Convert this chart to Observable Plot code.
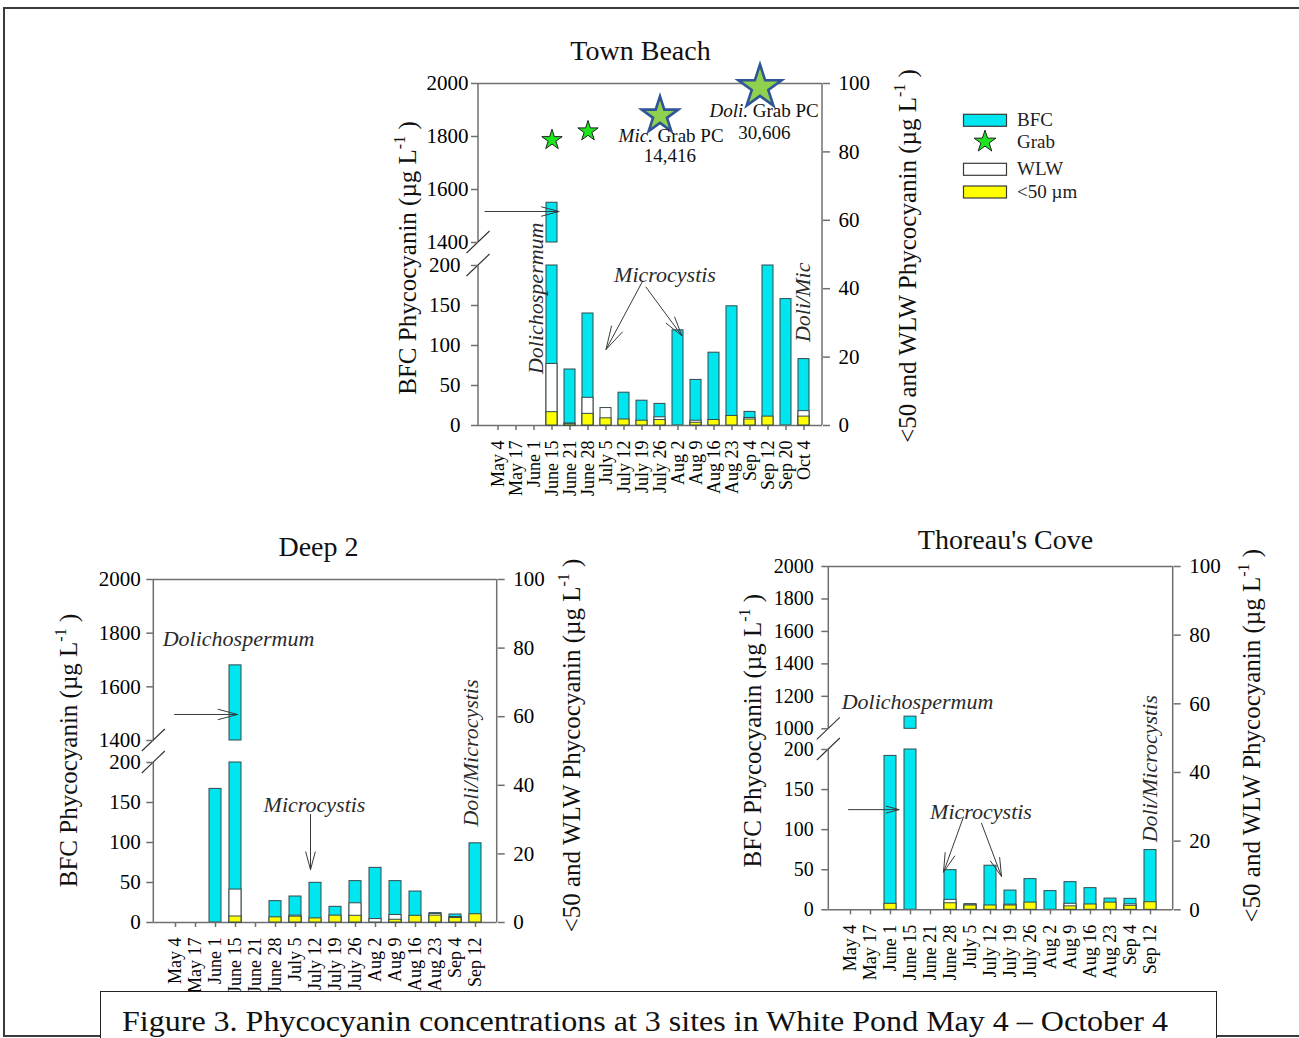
<!DOCTYPE html>
<html>
<head>
<meta charset="utf-8">
<script src="https://cdn.jsdelivr.net/npm/d3@7"></script>
<script src="https://cdn.jsdelivr.net/npm/@observablehq/plot@0.6"></script>
<style>
html,body{margin:0;padding:0;background:#fff;}
#page{position:relative;width:1299px;height:1038px;overflow:hidden;font-family:"Liberation Serif","Times New Roman",serif;background:#fff;}
#border{position:absolute;left:3px;top:7px;width:1320px;height:1026px;border-top:2px solid #3a3a3a;border-left:2px solid #3a3a3a;border-bottom:2px solid #3a3a3a;}
#caption{position:absolute;left:100px;top:991px;width:1115px;height:70px;border:1.5px solid #222;background:#fff;z-index:5;}
#caption svg{position:absolute;left:0;top:0;}
</style>
</head>
<body>
<div id="page"><div id="border"></div></div>
<script>
// ---------------- colours ----------------
const AXIS = "#6f6f6f";
const ANNO = "#2a2a2a";
const CYAN = "#00e6f0";
const YELLOW = "#ffff00";
const BAR_EDGE = "#34494b";
const GRAB_FILL = "#1ee61e";
const BIG_FILL = "#8fd14f";
const BIG_EDGE = "#2f5597";

// ---------------- data: Town Beach ----------------
const townDates = ["May 4","May 17","June 1","June 15","June 21","June 28","July 5","July 12","July 19","July 26","Aug 2","Aug 9","Aug 16","Aug 23","Sep 4","Sep 12","Sep 20","Oct 4"];
const townBFC  = [0,0,0,1550,70,140,0,41,31,27,119,57,91,149,17,200,158,83];
const townWLW  = [0,0,0,18.0,0.6,8.1,5.1,0,0,2.4,0,1.4,0,0,2.2,0,0,4.2];
const townLT50 = [0,0,0,3.9,0.4,3.4,2.1,1.75,1.4,1.6,0,0.8,1.6,2.8,1.75,2.6,0,2.6];
const townGrabDates = ["June 15","June 28"];
const townGrabPC = [1787,1820];
const townBigGrabDates = ["July 26","Sep 12"];
const townBigGrabPC = [1879,1986];
const townBigGrabTaxa = ["Mic.","Doli."];
const townBigGrabValues = ["14,416","30,606"];

// ---------------- data: Deep 2 and Thoreau's Cove ----------------
const siteDates = ["May 4","May 17","June 1","June 15","June 21","June 28","July 5","July 12","July 19","July 26","Aug 2","Aug 9","Aug 16","Aug 23","Sep 4","Sep 12"];
const deepBFC  = [0,0,167,1680,0,26.7,32.5,49.6,19.6,51.7,68.3,51.7,38.7,11.7,10,99];
const deepWLW  = [0,0,0,9.6,0,0,2.0,0,0,5.6,1.0,2.2,0,2.5,1.6,0];
const deepLT50 = [0,0,0,1.75,0,1.5,1.7,1.2,2.0,1.95,0,0.8,1.95,2.0,1.3,2.4];
const coveBFC  = [0,0,192,1075,0,49.5,7,55,24,38.3,23.3,34.5,27,14,13.7,74.5];
const coveWLW  = [0,0,0,0,0,2.9,1.5,0,1.5,0,0,1.75,0,0,1.6,0];
const coveLT50 = [0,0,1.75,0,0,1.9,1.25,1.25,1.25,2.1,0,1.0,1.55,2.1,1.15,2.2];

// ---------------- tick labels ----------------
const bfcTicksLow = [0,50,100,150,200];
const bfcTicksHigh = [1400,1600,1800,2000];
const coveTicksHigh = [1000,1200,1400,1600,1800,2000];
const rightTicks = [0,20,40,60,80,100];

const W = 1299, H = 1038;
const FONT = "'Liberation Serif','Times New Roman',serif";
const STYLE = `position:absolute;left:0;top:0;background:transparent;font-family:${FONT};color:#000;`;

// ---------------- helper marks ----------------
function spineMark(segments, side) {
  return (index, scales, values, dims) => {
    const xx = side === "left" ? dims.marginLeft : dims.width - dims.marginRight;
    const g = d3.create("svg:g").attr("stroke", AXIS).attr("stroke-width", 1.5);
    for (const [a, b] of segments)
      g.append("line").attr("x1", xx).attr("x2", xx).attr("y1", scales.y(a)).attr("y2", scales.y(b));
    return g.node();
  };
}
function slashMark(breaks) {
  return (index, scales, values, dims) => {
    const g = d3.create("svg:g").attr("stroke", "#333").attr("stroke-width", 1.1);
    for (const b of breaks) {
      const yy = scales.y(b);
      g.append("line").attr("x1", dims.marginLeft - 11.5).attr("y1", yy + 11)
        .attr("x2", dims.marginLeft + 11.5).attr("y2", yy - 11);
    }
    return g.node();
  };
}
function yTitleMark(main, side, offset, dy) {
  return (index, scales, values, dims) => {
    const x = side === "left" ? dims.marginLeft - offset : dims.width - dims.marginRight + offset;
    const y = (dims.marginTop + dims.height - dims.marginBottom) / 2 + dy;
    const t = d3.create("svg:text")
      .attr("transform", `translate(${x},${y}) rotate(-90)`)
      .attr("text-anchor", "middle").attr("font-size", 25).attr("fill", "#111");
    t.append("tspan").text(main + " (\u00b5g L");
    t.append("tspan").attr("font-size", 16).attr("dy", -11).text("-1");
    t.append("tspan").attr("dy", 11).text(" )");
    return t.node();
  };
}

// ---------------- panels ----------------
const panels = [
  {
    name: "Town Beach", dates: townDates, bfc: townBFC, wlw: townWLW, lt50: townLT50,
    frame: {left: 478, right: 822, top: 83, bottom: 425},
    yDomain: [0, 200, 1400, 2000], yRange: [425, 265, 242, 83],
    highTicks: bfcTicksHigh, lowPad: 11, highPad: 3, tickFont: 21,
    titleDx: -10, titleDy: -24,
    leftTitle: {offset: 62, dy: 4}, rightTitle: {offset: 94, dy: 2},
    texts: [
      {text: "Dolichospermum", date: "June 1", value: 159, dx: 2, dy: 0, rotate: -90},
      {text: "Microcystis", date: "July 26", value: 188, dx: 5, dy: 0, rotate: 0},
      {text: "Doli/Mic", date: "Oct 4", value: 154, dx: -1, dy: 0, rotate: -90}
    ],
    arrows: [
      {d1: "May 4", v1: 1517, d2: "June 15", v2: 1517, dx: 0, insetStart: -13, insetEnd: -7},
      {d1: "July 19", v1: 179, d2: "July 5", v2: 95, dx: 0, insetStart: 0, insetEnd: 0},
      {d1: "July 19", v1: 173, d2: "Aug 2", v2: 112, dx: 4, insetStart: 0, insetEnd: 0}
    ],
    grab: true
  },
  {
    name: "Deep 2", dates: siteDates, bfc: deepBFC, wlw: deepWLW, lt50: deepLT50,
    frame: {left: 153.3, right: 496.7, top: 579, bottom: 922},
    yDomain: [0, 200, 1400, 2000], yRange: [922, 762, 740, 579],
    highTicks: bfcTicksHigh, lowPad: 6, highPad: 6, tickFont: 21,
    titleDx: -7, titleDy: -24,
    leftTitle: {offset: 76, dy: 0}, rightTitle: {offset: 83, dy: -5},
    texts: [
      {text: "Dolichospermum", date: "June 15", value: 1780, dx: 3, dy: 0, rotate: 0},
      {text: "Microcystis", date: "July 12", value: 146.6, dx: -1, dy: 0, rotate: 0},
      {text: "Doli/Microcystis", date: "Sep 12", value: 200, dx: -5, dy: -9.5, rotate: -90}
    ],
    arrows: [
      {d1: "May 4", v1: 1497, d2: "June 15", v2: 1497, dx: 0, insetStart: -1, insetEnd: -2},
      {d1: "July 12", v1: 135, d2: "July 12", v2: 66, dx: -5, insetStart: 0, insetEnd: 0}
    ],
    grab: false
  },
  {
    name: "Thoreau's Cove", dates: siteDates, bfc: coveBFC, wlw: coveWLW, lt50: coveLT50,
    frame: {left: 828.3, right: 1172.7, top: 566, bottom: 909.3},
    yDomain: [0, 200, 1000, 2000], yRange: [909.3, 749, 728.3, 566],
    highTicks: coveTicksHigh, lowPad: 8, highPad: 8, tickFont: 20,
    titleDx: 4.5, titleDy: -18,
    leftTitle: {offset: 67, dy: -7}, rightTitle: {offset: 87, dy: -2},
    texts: [
      {text: "Dolichospermum", date: "June 15", value: 1168, dx: 7, dy: 0, rotate: 0},
      {text: "Microcystis", date: "July 5", value: 122.5, dx: 10.5, dy: 0, rotate: 0},
      {text: "Doli/Microcystis", date: "Sep 12", value: 176, dx: -1, dy: 0, rotate: -90}
    ],
    arrows: [
      {d1: "May 4", v1: 125, d2: "June 1", v2: 125, dx: 0, insetStart: -2, insetEnd: -8.6},
      {d1: "July 5", v1: 116, d2: "June 28", v2: 47, dx: -7, insetStart: 0, insetEnd: 0},
      {d1: "July 12", v1: 108, d2: "July 19", v2: 41.6, dx: -9, insetStart: 0, insetEnd: 0}
    ],
    grab: false
  }
];

const page = document.getElementById("page");

for (const p of panels) {
  const rows = p.dates.map((date, i) => ({date, bfc: p.bfc[i], wlw: p.wlw[i], lt50: p.lt50[i]}));
  const [, brkLow, brkHigh, top] = p.yDomain;
  const dims = {width: W, height: H, marginLeft: p.frame.left, marginRight: W - p.frame.right,
                marginTop: p.frame.top, marginBottom: H - p.frame.bottom};
  const xOpts = {type: "band", domain: p.dates, paddingInner: 0.39, paddingOuter: 0.695};
  const axisCommon = {tickSize: 7, tickFormat: d => String(d), fontSize: p.tickFont, stroke: AXIS, strokeWidth: 1.5, label: null};

  const marks = [
    Plot.barY(rows.filter(d => d.bfc > 0), {x: "date", y1: 0, y2: d => Math.min(d.bfc, brkLow), fill: CYAN, stroke: BAR_EDGE, strokeWidth: 1}),
    Plot.barY(rows.filter(d => d.bfc > brkLow), {x: "date", y1: brkHigh, y2: "bfc", fill: CYAN, stroke: BAR_EDGE, strokeWidth: 1}),
    Plot.ruleY([0, top], {stroke: AXIS, strokeWidth: 1.5}),
    spineMark([[0, brkLow], [brkHigh, top]], "left"),
    slashMark([brkLow, brkHigh]),
    Plot.axisY({...axisCommon, ticks: bfcTicksLow, anchor: "left", tickPadding: p.lowPad}),
    Plot.axisY({...axisCommon, ticks: p.highTicks, anchor: "left", tickPadding: p.highPad}),
    Plot.axisX({anchor: "bottom", tickRotate: -90, tickSize: 5, tickPadding: 10, fontSize: 18, stroke: AXIS, strokeWidth: 1.5, label: null}),
    Plot.text([p.name], {frameAnchor: "top", dx: p.titleDx, dy: p.titleDy, lineAnchor: "bottom", fontSize: 28, fill: "#111"}),
    yTitleMark("BFC Phycocyanin", "left", p.leftTitle.offset, p.leftTitle.dy)
  ];
  for (const t of p.texts) {
    marks.push(Plot.text([t], {x: "date", y: "value", text: "text", dx: t.dx, dy: t.dy, rotate: t.rotate,
      fontStyle: "italic", fontSize: 22, fill: ANNO}));
  }
  for (const a of p.arrows) {
    marks.push(Plot.arrow([a], {x1: "d1", y1: "v1", x2: "d2", y2: "v2", dx: a.dx,
      insetStart: a.insetStart, insetEnd: a.insetEnd, headLength: 36, headAngle: 30, stroke: "#3a3a3a", strokeWidth: 1}));
  }
  if (p.grab) {
    const grabRows = townGrabDates.map((date, i) => ({date, pc: townGrabPC[i]}));
    const bigRows = townBigGrabDates.map((date, i) => ({date, pc: townBigGrabPC[i], taxon: townBigGrabTaxa[i], value: townBigGrabValues[i]}));
    marks.push(Plot.dot(grabRows, {x: "date", y: "pc", symbol: "star", r: 6.4, fill: GRAB_FILL, stroke: "#1f1f1f", strokeWidth: 1}));
    const bigLayout = [
      {r: 11.5, dx: 0, taxDx: -7.1, grabDx: -2.4, numDx: 9.8, dy1: 26.7, dy2: 46.7},
      {r: 13.6, dx: -8, taxDx: -20, grabDx: -15.3, numDx: -3.7, dy1: 30, dy2: 51.6}
    ];
    bigRows.forEach((row, i) => {
      const L = bigLayout[i];
      marks.push(Plot.dot([row], {x: "date", y: "pc", symbol: "star", r: L.r, dx: L.dx, fill: BIG_FILL, stroke: BIG_EDGE, strokeWidth: 2.6}));
      marks.push(Plot.text([row], {x: "date", y: "pc", text: "taxon", dx: L.taxDx, dy: L.dy1, textAnchor: "end", lineAnchor: "bottom", fontStyle: "italic", fontSize: 19, fill: "#111"}));
      marks.push(Plot.text([row], {x: "date", y: "pc", text: () => "Grab PC", dx: L.grabDx, dy: L.dy1, textAnchor: "start", lineAnchor: "bottom", fontSize: 19, fill: "#111"}));
      marks.push(Plot.text([row], {x: "date", y: "pc", text: "value", dx: L.numDx, dy: L.dy2, lineAnchor: "bottom", fontSize: 19, fill: "#111"}));
    });
  }

  const left = Plot.plot({
    ...dims, style: STYLE,
    x: xOpts,
    y: {type: "linear", domain: p.yDomain, range: p.yRange},
    marks
  });

  const right = Plot.plot({
    ...dims, style: STYLE,
    x: {...xOpts, axis: null},
    y: {type: "linear", domain: [0, 100], range: [p.frame.bottom, p.frame.top]},
    marks: [
      Plot.barY(rows.filter(d => d.wlw > 0), {x: "date", y1: 0, y2: "wlw", fill: "#ffffff", stroke: BAR_EDGE, strokeWidth: 1}),
      Plot.barY(rows.filter(d => d.lt50 > 0), {x: "date", y1: 0, y2: "lt50", fill: YELLOW, stroke: BAR_EDGE, strokeWidth: 1}),
      spineMark([[0, 100]], "right"),
      Plot.axisY({...axisCommon, fontSize: 21, ticks: rightTicks, anchor: "right", tickPadding: 9}),
      yTitleMark("<50 and WLW Phycocyanin", "right", p.rightTitle.offset, p.rightTitle.dy)
    ]
  });
  page.appendChild(left);
  page.appendChild(right);
}

// ---------------- legend ----------------
const legendItems = ["BFC", "Grab", "WLW", "<50 \u00b5m"];
const legendFills = [CYAN, GRAB_FILL, "#ffffff", YELLOW];
const legendY = [120.3, 141.7, 169.3, 192];
const legend = d3.create("svg").attr("width", W).attr("height", H)
  .style("position", "absolute").style("left", 0).style("top", 0)
  .attr("font-family", FONT).attr("font-size", 19);
legendItems.forEach((label, i) => {
  const y = legendY[i];
  if (label === "Grab") {
    legend.append("path").attr("d", d3.symbol(d3.symbolStar, 148)())
      .attr("transform", `translate(985,${y})`).attr("fill", legendFills[i]).attr("stroke", "#1f1f1f");
  } else {
    legend.append("rect").attr("x", 963.5).attr("y", y - 6).attr("width", 43).attr("height", 12)
      .attr("fill", legendFills[i]).attr("stroke", "#3a3a3a").attr("stroke-width", 1.2);
  }
  legend.append("text").attr("x", 1017).attr("y", y + 6).attr("fill", "#222").text(label);
});
page.appendChild(legend.node());

// ---------------- caption ----------------
const cap = document.createElement("div");
cap.id = "caption";
const capSvg = d3.create("svg").attr("width", 1115).attr("height", 60);
capSvg.append("text").attr("x", 21).attr("y", 38.5).attr("font-family", FONT).attr("font-size", 30)
  .attr("textLength", 1046).attr("lengthAdjust", "spacingAndGlyphs").attr("fill", "#111")
  .text("Figure 3. Phycocyanin concentrations at 3 sites in White Pond May 4 \u2013 October 4");
cap.appendChild(capSvg.node());
page.appendChild(cap);
</script>
</body>
</html>
